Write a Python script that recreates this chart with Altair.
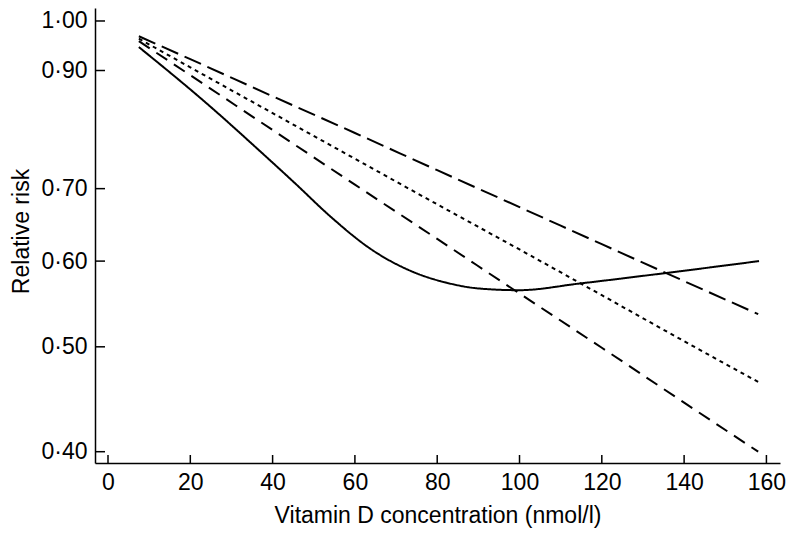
import altair as alt
import pandas as pd

# ---- data ----
x_lin = [7.5, 20, 40, 60, 80, 100, 120, 140, 158]
top_dash = [0.968, 0.922, 0.852, 0.788, 0.728, 0.673, 0.622, 0.575, 0.536]
dotted = [0.963, 0.906, 0.822, 0.746, 0.677, 0.615, 0.558, 0.506, 0.464]
mid_dash = [0.958, 0.891, 0.793, 0.706, 0.629, 0.560, 0.499, 0.444, 0.400]
solid_x = [7.5, 24, 37.7, 45.8, 53.8, 64.3, 74.3, 82.3, 90.2, 99.9, 114.5, 135.6, 158.2]
solid_y = [0.946, 0.839, 0.7535, 0.706, 0.661, 0.614, 0.586, 0.573, 0.566, 0.564, 0.572, 0.585, 0.600]

x_ticks = [0, 20, 40, 60, 80, 100, 120, 140, 160]
y_ticks = [0.40, 0.50, 0.60, 0.70, 0.90, 1.00]

series_names = ["solid", "long dash", "dotted", "medium dash"]
dash_styles = [[1, 0], [18, 7], [4, 4], [13, 8]]

rows = []
for xv, yv in zip(solid_x, solid_y):
    rows.append({"vd": xv, "rr": yv, "series": "solid"})
for name, vals in [("long dash", top_dash), ("dotted", dotted), ("medium dash", mid_dash)]:
    for xv, yv in zip(x_lin, vals):
        rows.append({"vd": xv, "rr": yv, "series": name})
df = pd.DataFrame(rows)
df_xt = pd.DataFrame({"vd": x_ticks})
df_yt = pd.DataFrame({"rr": y_ticks})

W, H = 685, 455
FONT = "Liberation Sans"

xs = alt.Scale(domain=[-3.16, 163.3], nice=False, zero=False)
ys = alt.Scale(type="log", domain=[0.3905, 1.028], nice=False, zero=False)

x_axis = alt.Axis(
    values=x_ticks, ticks=False, grid=False, labelPadding=8,
    domainColor="black", domainWidth=1.5,
    labelFont=FONT, labelFontSize=23, labelColor="black",
    labelFlush=False, labelOverlap=False,
    title="Vitamin D concentration (nmol/l)", titleFont=FONT, titleFontSize=23,
    titleFontWeight="normal", titleColor="black", titlePadding=10,
)
y_axis = alt.Axis(
    values=y_ticks, ticks=False, grid=False, labelPadding=8,
    labelExpr="replace(format(datum.value, '.2f'), '.', '·')",
    domainColor="black", domainWidth=1.5,
    labelFont=FONT, labelFontSize=23, labelColor="black",
    labelFlush=False, labelOverlap=False,
    title="Relative risk", titleFont=FONT, titleFontSize=23,
    titleFontWeight="normal", titleColor="black",
    titleX=-74, titleY=223, titleAngle=-90, titleBaseline="middle", titleAlign="center",
)

lines = alt.Chart(df).mark_line(color="black", strokeWidth=2, interpolate="monotone").encode(
    x=alt.X("vd:Q", scale=xs, axis=x_axis),
    y=alt.Y("rr:Q", scale=ys, axis=y_axis),
    detail="series:N",
    strokeDash=alt.StrokeDash("series:N", scale=alt.Scale(domain=series_names, range=dash_styles), legend=None),
)

xt = alt.Chart(df_xt).mark_rule(color="black", strokeWidth=1.5).encode(
    x=alt.X("vd:Q", scale=xs, axis=x_axis),
    y=alt.value(H - 8),
    y2=alt.value(H),
)

yt = alt.Chart(df_yt).mark_rule(color="black", strokeWidth=1.5).encode(
    y=alt.Y("rr:Q", scale=ys, axis=y_axis),
    x=alt.value(0),
    x2=alt.value(10),
)

chart = alt.layer(lines, xt, yt).properties(
    width=W, height=H,
    autosize=alt.AutoSizeParams(type="none"),
    padding={"left": 87, "top": 0, "right": 6, "bottom": 67},
    background="white",
).configure_view(stroke=None)

chart.save("out.html", embed_options={"renderer": "svg", "actions": False})
